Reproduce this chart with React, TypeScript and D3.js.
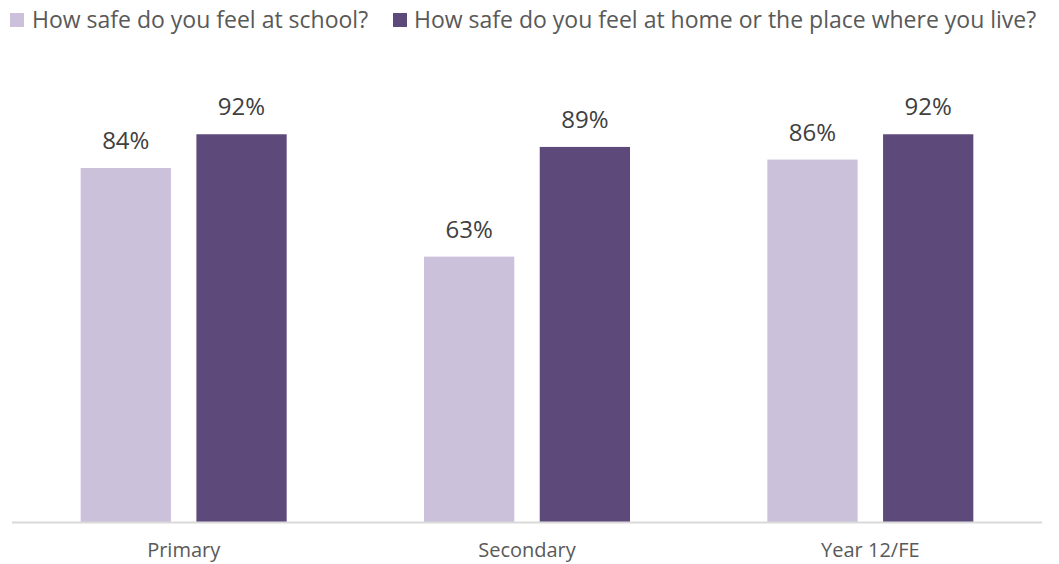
import React from "react";
import * as d3 from "d3";

const categories = ["Primary", "Secondary", "Year 12/FE"];
const seriesNames = [
  "How safe do you feel at school?",
  "How safe do you feel at home or the place where you live?",
];
const schoolValues = [84, 63, 86];
const homeValues = [92, 89, 92];
const seriesColors = ["#CBC1DB", "#5E4A7A"];

const W = 1059;
const H = 564;
const FONT = "'Open Sans', sans-serif";

export default function App() {
  const left = 12;
  const right = 1042;
  const baseY = 522.5;

  const x0 = d3
    .scaleBand<string>()
    .domain(categories)
    .range([left, right])
    .paddingInner(0.4)
    .paddingOuter(0.2);
  const x1 = d3
    .scaleBand<string>()
    .domain(seriesNames)
    .range([0, x0.bandwidth()])
    .paddingInner(0.22);
  const y = d3.scaleLinear().domain([0, 100]).range([baseY, baseY - 422]);

  const seriesValues = [schoolValues, homeValues];

  return (
    <svg
      width={W}
      height={H}
      style={{ position: "absolute", left: 0, top: 0, background: "#fff" }}
      fontFamily={FONT}
    >
      {/* legend */}
      <g>
        <rect x={10} y={13} width={14} height={14} fill={seriesColors[0]} />
        <text x={32} y={28} fontSize={23} fill="#595959">
          {seriesNames[0]}
        </text>
        <rect x={393} y={13} width={14} height={14} fill={seriesColors[1]} />
        <text x={414} y={28} fontSize={23} fill="#595959">
          {seriesNames[1]}
        </text>
      </g>

      {/* bars */}
      {categories.map((c, ci) => (
        <g key={c} transform={`translate(${x0(c)},0)`}>
          {seriesNames.map((s, si) => {
            const v = seriesValues[si][ci];
            const bx = x1(s)!;
            const by = y(v);
            return (
              <g key={s}>
                <rect
                  x={bx}
                  y={by}
                  width={x1.bandwidth()}
                  height={baseY - by}
                  fill={seriesColors[si]}
                />
                <text
                  x={bx + x1.bandwidth() / 2}
                  y={by - 19}
                  textAnchor="middle"
                  fontSize={24}
                  fill="#404040"
                >
                  {v}%
                </text>
              </g>
            );
          })}
        </g>
      ))}

      {/* axis */}
      <line x1={left} x2={right} y1={baseY} y2={baseY} stroke="#D9D9D9" strokeWidth={2} />
      {categories.map((c) => (
        <text
          key={c}
          x={x0(c)! + x0.bandwidth() / 2}
          y={557}
          textAnchor="middle"
          fontSize={20}
          fill="#595959"
        >
          {c}
        </text>
      ))}
    </svg>
  );
}
